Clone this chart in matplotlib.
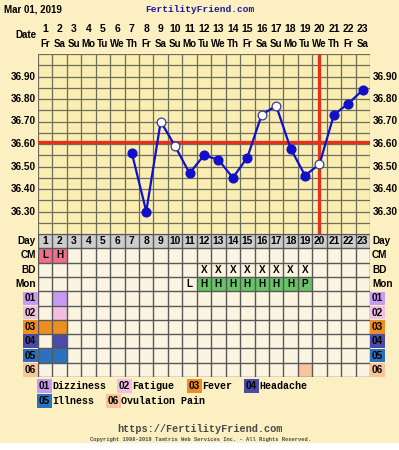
import matplotlib
matplotlib.use("Agg")
import matplotlib.pyplot as plt
from matplotlib.patches import Rectangle

# ---------------- data ----------------
days = list(range(1, 24))
weekdays = ['Fr', 'Sa', 'Su', 'Mo', 'Tu', 'We', 'Th', 'Fr', 'Sa', 'Su', 'Mo', 'Tu',
            'We', 'Th', 'Fr', 'Sa', 'Su', 'Mo', 'Tu', 'We', 'Th', 'Fr', 'Sa']
temp_days = [7, 8, 9, 10, 11, 12, 13, 14, 15, 16, 17, 18, 19, 20, 21, 22, 23]
temps = [36.56, 36.30, 36.70, 36.59, 36.47, 36.55, 36.53, 36.45, 36.54,
         36.73, 36.77, 36.58, 36.46, 36.51, 36.73, 36.78, 36.84]
open_days = [9, 10, 16, 17, 20]
temp_ticks = [36.30, 36.40, 36.50, 36.60, 36.70, 36.80, 36.90]
coverline = 36.61
ovulation_day = 20

cm_days = [1, 2]
cm_vals = ['L', 'H']
bd_days = [12, 13, 14, 15, 16, 17, 18, 19]
mon_days = [11, 12, 13, 14, 15, 16, 17, 18, 19]
mon_vals = ['L', 'H', 'H', 'H', 'H', 'H', 'H', 'H', 'P']

symptom_codes = ['01', '02', '03', '04', '05', '06']
symptom_names = ['Dizziness', 'Fatigue', 'Fever', 'Headache', 'Illness', 'Ovulation Pain']
symptom_colors = ['#C79BF2', '#F2BFE3', '#EE8E22', '#4A4AA8', '#2A72BE', '#F8C59A']
symptom_days = [[2], [2], [1, 2], [2], [1, 2], [19]]

row_labels = ['Day', 'CM', 'BD', 'Mon'] + symptom_codes

# ---------------- style ----------------
W, H = 399, 450
PAGE = '#FCF0C2'
PLOT = '#FAEEB3'
CELL = '#FBF4E1'
DAYROW = '#CDCDCD'
GRID = '#6E6E5C'
TGRID = '#585858'
RED = '#E2321E'
BLUE = '#1010C8'
SANS = 'Liberation Sans'
MONO = 'Liberation Mono'

fig = plt.figure(figsize=(W / 100, H / 100), dpi=100)
fig.patch.set_facecolor('white')
fig.patches.append(Rectangle((0, 1 - 443 / H), 1, 443 / H, transform=fig.transFigure,
                             facecolor=PAGE, edgecolor='none', zorder=-10))


def T(x, y, s, **kw):
    kw.setdefault('family', SANS)
    kw.setdefault('fontweight', 'bold')
    return fig.text(x / W, 1 - y / H, s, **kw)


X0, X1 = 38, 370
Y_TOP, Y_MID, Y_BOT = 54, 234, 377

# ---------------- temperature chart ----------------
ax = fig.add_axes([X0 / W, 1 - Y_MID / H, (X1 - X0) / W, (Y_MID - Y_TOP) / H])
ax.set_facecolor(PLOT)
ax.set_xlim(0.5, 23.5)
ax.set_ylim(36.20, 37.00)
for i in range(24):
    ax.axvline(0.5 + i, color=GRID, lw=0.9, zorder=1)
yv = 36.20
while yv < 37.001:
    ax.axhline(yv, color=GRID, lw=0.9, zorder=1)
    yv += 0.05
ax.axhline(coverline, color=RED, lw=2.4, zorder=2)
ax.axvline(ovulation_day, color=RED, lw=2.4, zorder=2)
ax.plot(temp_days, temps, color=BLUE, lw=1.6, zorder=3)
fd = [d for d in temp_days if d not in open_days]
ft = [t for d, t in zip(temp_days, temps) if d not in open_days]
od = [d for d in temp_days if d in open_days]
ot = [t for d, t in zip(temp_days, temps) if d in open_days]
ax.plot(fd, ft, 'o', color=BLUE, ms=6.3, zorder=4)
ax.plot(od, ot, 'o', mfc='white', mec='#3A3A9A', mew=0.9, ms=6.3, zorder=4)
ax.set_xticks([])
ax.set_yticks([])
for s in ax.spines.values():
    s.set_visible(False)

for t in temp_ticks:
    ypx = Y_TOP + (37.00 - t) / 0.80 * (Y_MID - Y_TOP)
    T(36, ypx, f'{t:.2f}', ha='right', va='center', fontsize=7.2)
    T(373, ypx, f'{t:.2f}', ha='left', va='center', fontsize=7.2)

# ---------------- header ----------------
T(4, 9.5, 'Mar 01, 2019', ha='left', va='center', fontsize=7.0)
T(200, 9.5, 'FertilityFriend.com', ha='center', va='center', fontsize=6.8,
  family=MONO, color='#1A1AA0')
T(36, 34.5, 'Date', ha='right', va='center', fontsize=7.0)
colw = (X1 - X0) / 23
for i, (d, wd) in enumerate(zip(days, weekdays)):
    cx = X0 + (i + 0.5) * colw
    T(cx, 29.5, str(d), ha='center', va='center', fontsize=7.5)
    T(cx, 44, wd, ha='center', va='center', fontsize=7.0)

# ---------------- table ----------------
tb = fig.add_axes([X0 / W, 1 - Y_BOT / H, (X1 - X0) / W, (Y_BOT - Y_MID) / H])
tb.set_xlim(0.5, 23.5)
tb.set_ylim(10, 0)
tb.set_facecolor(CELL)
tb.add_patch(Rectangle((0.5, 0), 23, 1, facecolor=DAYROW, edgecolor='none', zorder=0))
for d in days:
    tb.text(d, 0.5, str(d), ha='center', va='center', fontsize=7.4,
            fontweight='bold', family=SANS)
for d, v in zip(cm_days, cm_vals):
    tb.add_patch(Rectangle((d - 0.5, 1), 1, 1, facecolor='#EF6F8C', edgecolor='none', zorder=0))
    tb.text(d, 1.5, v, ha='center', va='center', fontsize=7.2, fontweight='bold', family=SANS)
for d in bd_days:
    tb.text(d, 2.5, 'X', ha='center', va='center', fontsize=7.2, fontweight='bold', family=SANS)
for d, v in zip(mon_days, mon_vals):
    if v != 'L':
        tb.add_patch(Rectangle((d - 0.5, 3), 1, 1, facecolor='#68C466', edgecolor='none', zorder=0))
    tb.text(d, 3.5, v, ha='center', va='center', fontsize=7.2, fontweight='bold', family=SANS)
for r, (col, dl) in enumerate(zip(symptom_colors, symptom_days)):
    for d in dl:
        tb.add_patch(Rectangle((d - 0.5, 4 + r), 1, 1, facecolor=col, edgecolor='none', zorder=0))
for i in range(24):
    tb.axvline(0.5 + i, color=TGRID, lw=1.0, zorder=1)
for j in range(11):
    tb.axhline(j, color=TGRID, lw=1.0, zorder=1)
tb.set_xticks([])
tb.set_yticks([])
for s in tb.spines.values():
    s.set_visible(False)

rowh = (Y_BOT - Y_MID) / 10
for j, lab in enumerate(row_labels):
    cy = Y_MID + (j + 0.5) * rowh
    if j < 4:
        T(36, cy, lab, ha='right', va='center', fontsize=7.2)
        T(372, cy, lab, ha='left', va='center', fontsize=7.2)
    else:
        col = symptom_colors[j - 4]
        bb = dict(boxstyle='square,pad=0.18', fc=col, ec='none')
        T(36, cy, lab, ha='right', va='center', fontsize=7.2, bbox=bb)
        T(372, cy, lab, ha='left', va='center', fontsize=7.2, bbox=bb)

# ---------------- legend ----------------
legend_pos = [(38, 386), (118, 386), (188, 386), (245, 386), (38, 401), (107, 401)]
for (lx, ly), code, name, col in zip(legend_pos, symptom_codes, symptom_names, symptom_colors):
    T(lx + 1, ly, code, ha='left', va='center', fontsize=7.2,
      bbox=dict(boxstyle='square,pad=0.18', fc=col, ec='none'))
    T(lx + 14, ly, name, ha='left', va='center', fontsize=7.2, family=MONO)

# ---------------- footer ----------------
T(200, 429, 'https://FertilityFriend.com', ha='center', va='center', fontsize=7.4,
  family=MONO, color='#4A4A4A')
T(200, 440, 'Copyright 1998-2019 Tamtris Web Services Inc. - All Rights Reserved.',
  ha='center', va='center', fontsize=3.9, family=MONO, color='#4A4A4A')

fig.savefig('out.png', dpi=100, facecolor=fig.get_facecolor())
